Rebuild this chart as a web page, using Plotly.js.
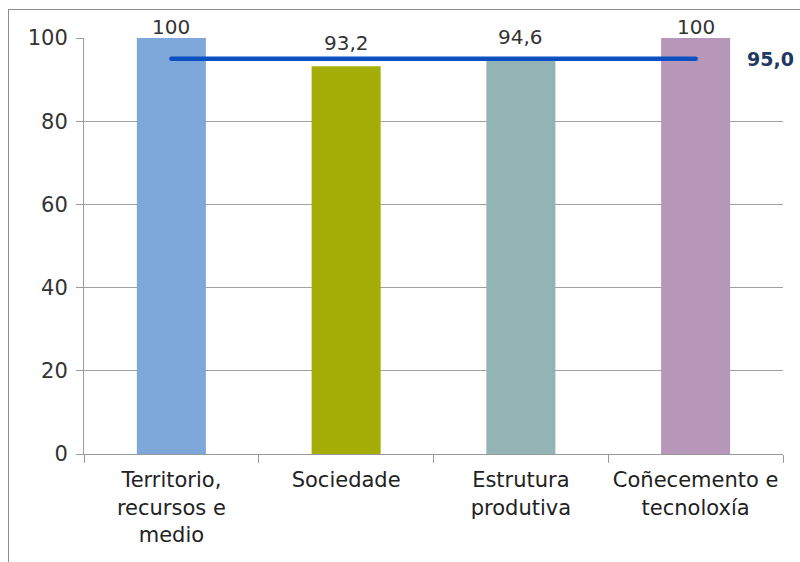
<!DOCTYPE html>
<html>
<head>
<meta charset="utf-8">
<script src="https://cdn.plot.ly/plotly-3.0.1.min.js"></script>
<style>
  html, body { margin: 0; padding: 0; background: #fff; }
  #wrap { position: relative; width: 800px; height: 562px; overflow: hidden; }
  #frame { position: absolute; left: 8px; top: 9px; width: 800px; height: 600px;
           border-left: 1.5px solid #8c8c8c; border-top: 1.5px solid #8c8c8c; }
  #chart { position: absolute; left: 0; top: 0; width: 800px; height: 562px; }
  #chart .scatterlayer path.js-line { stroke-linecap: round; }
</style>
</head>
<body>
<div id="wrap">
  <div id="frame"></div>
  <div id="chart"></div>
</div>
<script>
const categories = ["Territorio,<br>recursos e<br>medio", "Sociedade", "Estrutura<br>produtiva", "Coñecemento e<br>tecnoloxía"];
const values = [100, 93.2, 94.6, 100];
const valueLabels = ["100", "93,2", "94,6", "100"];
const barColors = ["#7ea7da", "#a5ae06", "#93b3b4", "#b697b9"];
const average = 95.0;
const averageLabel = "95,0";

const bars = {
  type: "bar",
  x: categories,
  y: values,
  marker: { color: barColors, line: { width: 0 } },
  hoverinfo: "none",
  showlegend: false
};

const avgLine = {
  type: "scatter",
  mode: "lines",
  x: [categories[0], categories[categories.length - 1]],
  y: [average, average],
  line: { color: "#0a50c0", width: 4.5 },
  hoverinfo: "none",
  showlegend: false
};

// value labels above bars (clamped near the top like the original)
const valueAnnotations = values.map((v, i) => ({
  x: categories[i],
  y: v,
  xref: "x",
  yref: "y",
  text: valueLabels[i],
  showarrow: false,
  xanchor: "center",
  yanchor: "middle",
  yshift: v >= 99.9 ? 11 : 23,
  font: { family: "DejaVu Sans", size: 20, color: "#333333" }
}));

const layout = {
  width: 800,
  height: 562,
  margin: { l: 84, r: 17, t: 38, b: 108 },
  paper_bgcolor: "rgba(0,0,0,0)",
  plot_bgcolor: "rgba(0,0,0,0)",
  bargap: 0.605,
  showlegend: false,
  xaxis: {
    type: "category",
    automargin: false,
    range: [-0.5, categories.length - 0.5],
    tickson: "boundaries",
    ticks: "outside",
    ticklen: 8,
    tickcolor: "#999999",
    showline: true,
    linecolor: "#999999",
    linewidth: 1,
    showgrid: false,
    ticklabelstandoff: 7,
    tickfont: { family: "DejaVu Sans", size: 21, color: "#222222" },
    fixedrange: true
  },
  yaxis: {
    automargin: false,
    range: [0, 100],
    tickvals: [0, 20, 40, 60, 80, 100],
    ticks: "outside",
    ticklen: 7,
    tickcolor: "#999999",
    showline: true,
    linecolor: "#999999",
    linewidth: 1,
    showgrid: true,
    gridcolor: "#a0a0a0",
    gridwidth: 1,
    zeroline: false,
    ticklabelstandoff: 4,
    tickfont: { family: "DejaVu Sans", size: 21, color: "#333333" },
    fixedrange: true
  },
  annotations: valueAnnotations.concat([{
    x: categories[categories.length - 1],
    y: average,
    xref: "x",
    yref: "y",
    text: "<b>" + averageLabel + "</b>",
    showarrow: false,
    xanchor: "left",
    yanchor: "middle",
    xshift: 49,
    font: { family: "DejaVu Sans", size: 19, color: "#1f3864" }
  }])
};

Plotly.newPlot("chart", [bars, avgLine], layout, { displayModeBar: false, staticPlot: true });
</script>
</body>
</html>
